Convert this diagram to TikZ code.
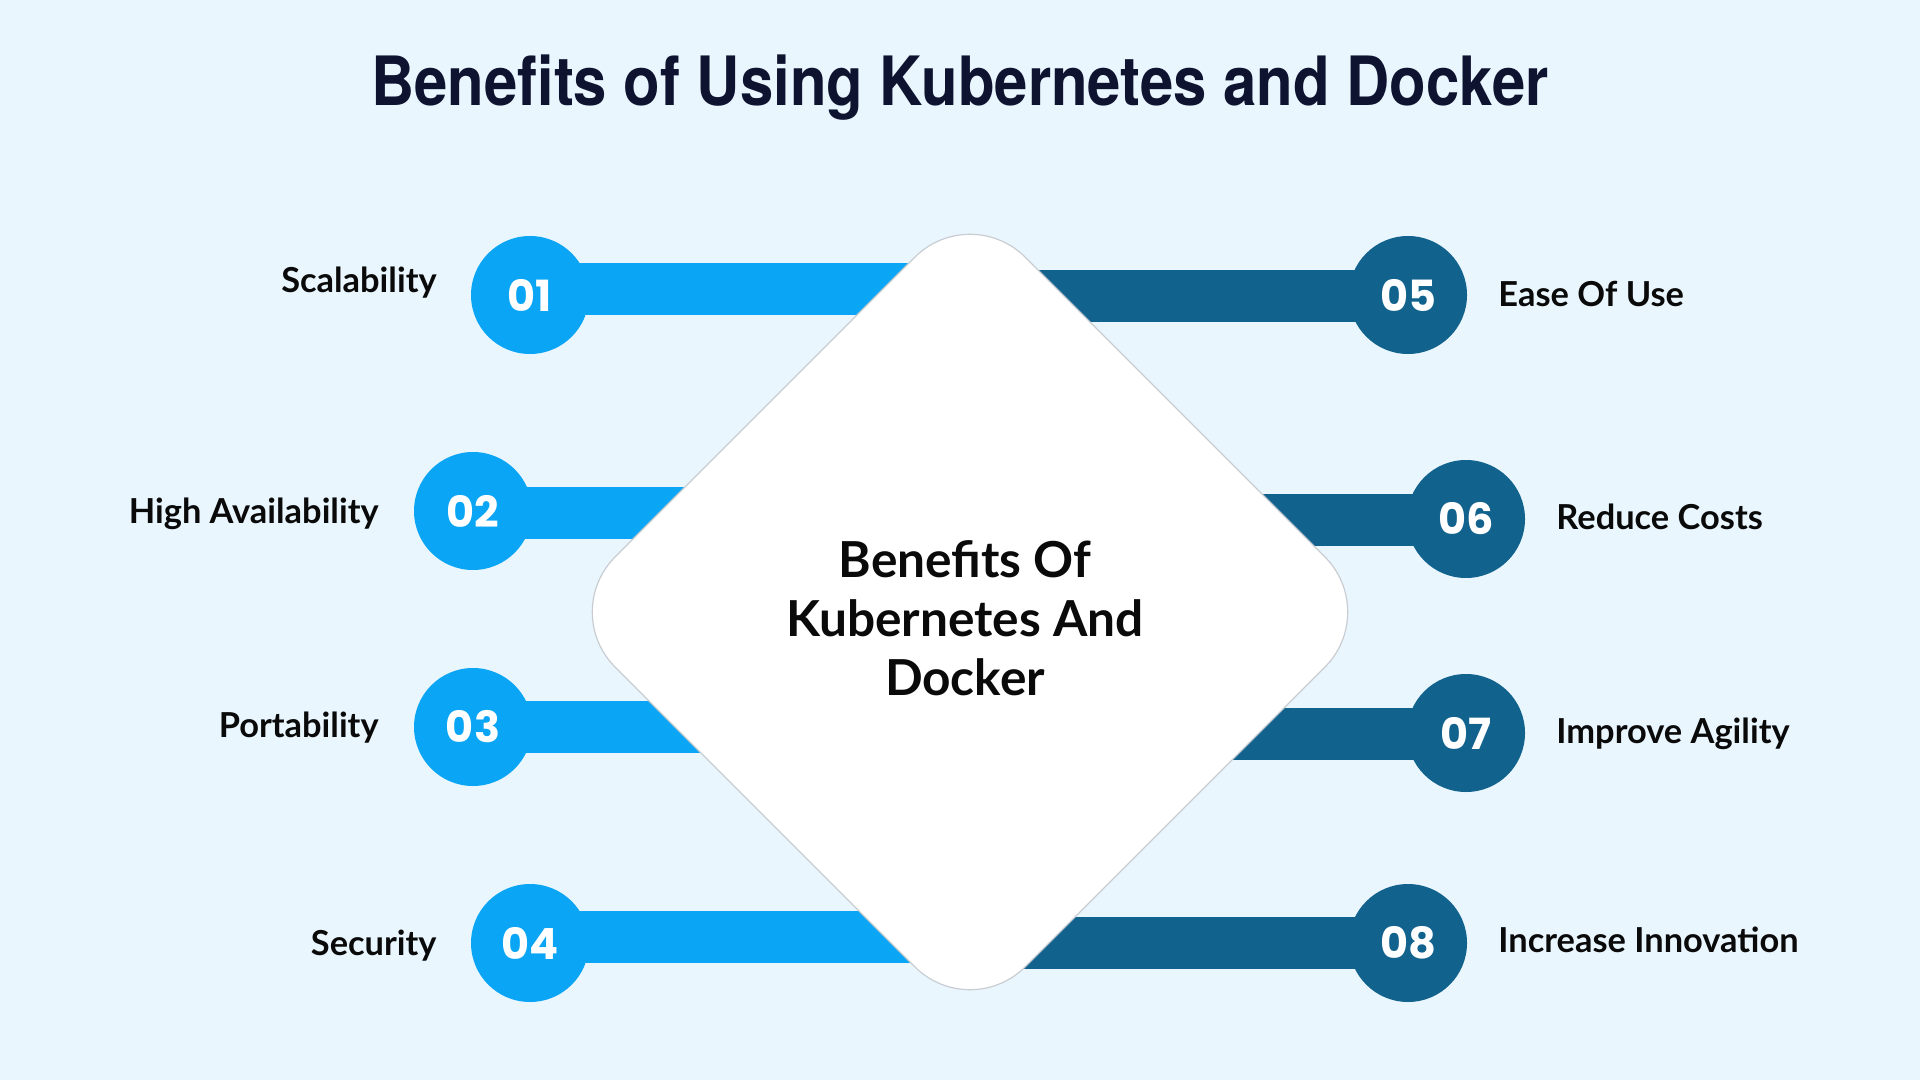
\documentclass[tikz,border=0pt]{standalone}
\usepackage{fontspec}
\setmainfont{Lato}
\newfontfamily\titlefont{TeX Gyre Heros}
\newfontfamily\numfont{Poppins}
\usetikzlibrary{backgrounds}
\definecolor{bgc}{HTML}{E9F6FE}
\definecolor{lightb}{HTML}{0AA5F5}
\definecolor{darkb}{HTML}{12628E}
\definecolor{titlec}{HTML}{0E1330}
\definecolor{txtc}{HTML}{0A0A0A}
\definecolor{edgec}{HTML}{C9CDD2}
\begin{document}
\begin{tikzpicture}[x=0.5pt,y=-0.5pt,
  num/.style={circle, minimum size=59pt, inner sep=0pt, text=white, font=\numfont\bfseries\fontsize{21.5}{21.5}\selectfont},
  numL/.style={num, fill=lightb},
  numR/.style={num, fill=darkb},
  barL/.style={draw=lightb, line width=26pt},
  barR/.style={draw=darkb, line width=26pt},
  lab/.style={font=\bfseries\fontsize{17.2}{19}\selectfont, text=txtc, inner sep=0pt},
  labL/.style={lab, anchor=mid east},
  labR/.style={lab, anchor=mid west},
  hubtext/.style={align=center, font=\bfseries\fontsize{24.8}{29.5}\selectfont, text=txtc},
  panel/.style={fill=white, draw=edgec, line width=0.6pt, rounded corners=39pt}
]
\useasboundingbox (0,0) rectangle (1920,1080);

% title
\node[font=\titlefont\bfseries\fontsize{34}{34}\selectfont, text=titlec, anchor=base, xscale=0.88, transform shape] (title) at (960,106) {Benefits of Using Kubernetes and Docker};

% hub text
\node[hubtext] (hub) at (965,618) {Benefits Of\\Kubernetes And\\Docker};

% number circles
\node[numL] (c1) at (530,295) {01};
\node[numL] (c2) at (473,511) {02};
\node[numL] (c3) at (473,727) {03};
\node[numL] (c4) at (530,943) {04};
\node[numR] (c5) at (1408,295) {05};
\node[numR] (c6) at (1466,519) {06};
\node[numR] (c7) at (1466,733) {07};
\node[numR] (c8) at (1408,943) {08};

% labels
\node[labL] (t1) at (437,287) {Scalability};
\node[labL] (t2) at (379,518) {High Availability};
\node[labL] (t3) at (379,732) {Portability};
\node[labL] (t4) at (437,950) {Security};
\node[labR] (t5) at (1498,301) {Ease Of Use};
\node[labR] (t6) at (1556,524) {Reduce Costs};
\node[labR] (t7) at (1556,738) {Improve Agility};
\node[labR] (t8) at (1498,947) {Increase Innovation};

\begin{scope}[on background layer]
  \fill[bgc] (0,0) rectangle (1920,1080);
  \draw[barL] ([yshift=3pt]c1.center) -- ([yshift=3pt]c1.center -| hub.center);
  \draw[barL] ([yshift=-1pt]c2.center) -- ([yshift=-1pt]c2.center -| hub.center);
  \draw[barL] (c3.center) -- (c3.center -| hub.center);
  \draw[barL] ([yshift=3pt]c4.center) -- ([yshift=3pt]c4.center -| hub.center);
  \draw[barR] ([yshift=-0.5pt]c5.center) -- ([yshift=-0.5pt]c5.center -| hub.center);
  \draw[barR] ([yshift=-0.5pt]c6.center) -- ([yshift=-0.5pt]c6.center -| hub.center);
  \draw[barR] ([yshift=-0.5pt]c7.center) -- ([yshift=-0.5pt]c7.center -| hub.center);
  \draw[barR] (c8.center) -- (c8.center -| hub.center);
  \draw[panel] (765,407) -- (970,202) -- (1380,612) -- (970,1022) -- (560,612) -- cycle;
\end{scope}
\end{tikzpicture}
\end{document}
